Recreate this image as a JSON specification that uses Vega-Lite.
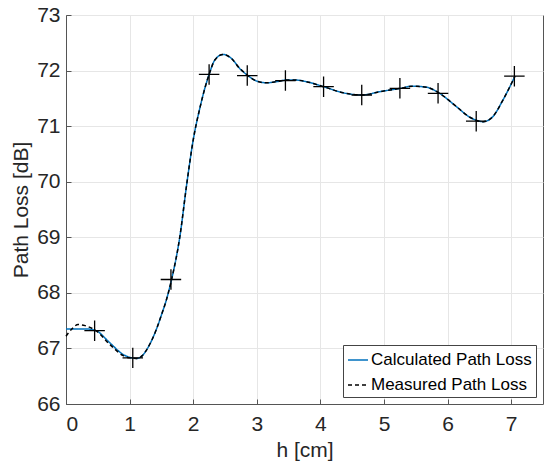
{
  "$schema": "https://vega.github.io/schema/vega-lite/v6.json",
  "autosize": "none",
  "width": 477,
  "height": 389,
  "padding": {"left": 66, "top": 15, "right": 8, "bottom": 66},
  "background": "white",
  "datasets": {
    "curves": [
      {"h": 0.00, "loss": 67.35, "series": "Calculated Path Loss"},
      {"h": 0.15, "loss": 67.35, "series": "Calculated Path Loss"},
      {"h": 0.32, "loss": 67.35, "series": "Calculated Path Loss"},
      {"h": 0.47, "loss": 67.32, "series": "Calculated Path Loss"},
      {"h": 0.69, "loss": 67.10, "series": "Calculated Path Loss"},
      {"h": 0.90, "loss": 66.89, "series": "Calculated Path Loss"},
      {"h": 1.00, "loss": 66.84, "series": "Calculated Path Loss"},
      {"h": 1.11, "loss": 66.82, "series": "Calculated Path Loss"},
      {"h": 1.20, "loss": 66.87, "series": "Calculated Path Loss"},
      {"h": 1.27, "loss": 66.98, "series": "Calculated Path Loss"},
      {"h": 1.42, "loss": 67.34, "series": "Calculated Path Loss"},
      {"h": 1.50, "loss": 67.60, "series": "Calculated Path Loss"},
      {"h": 1.58, "loss": 67.88, "series": "Calculated Path Loss"},
      {"h": 1.66, "loss": 68.24, "series": "Calculated Path Loss"},
      {"h": 1.79, "loss": 69.01, "series": "Calculated Path Loss"},
      {"h": 1.90, "loss": 69.97, "series": "Calculated Path Loss"},
      {"h": 2.00, "loss": 70.75, "series": "Calculated Path Loss"},
      {"h": 2.11, "loss": 71.35, "series": "Calculated Path Loss"},
      {"h": 2.19, "loss": 71.71, "series": "Calculated Path Loss"},
      {"h": 2.25, "loss": 71.93, "series": "Calculated Path Loss"},
      {"h": 2.34, "loss": 72.19, "series": "Calculated Path Loss"},
      {"h": 2.47, "loss": 72.29, "series": "Calculated Path Loss"},
      {"h": 2.60, "loss": 72.22, "series": "Calculated Path Loss"},
      {"h": 2.73, "loss": 72.04, "series": "Calculated Path Loss"},
      {"h": 2.85, "loss": 71.92, "series": "Calculated Path Loss"},
      {"h": 3.00, "loss": 71.81, "series": "Calculated Path Loss"},
      {"h": 3.15, "loss": 71.78, "series": "Calculated Path Loss"},
      {"h": 3.31, "loss": 71.80, "series": "Calculated Path Loss"},
      {"h": 3.47, "loss": 71.83, "series": "Calculated Path Loss"},
      {"h": 3.60, "loss": 71.83, "series": "Calculated Path Loss"},
      {"h": 3.78, "loss": 71.80, "series": "Calculated Path Loss"},
      {"h": 4.05, "loss": 71.71, "series": "Calculated Path Loss"},
      {"h": 4.36, "loss": 71.60, "series": "Calculated Path Loss"},
      {"h": 4.66, "loss": 71.56, "series": "Calculated Path Loss"},
      {"h": 4.93, "loss": 71.62, "series": "Calculated Path Loss"},
      {"h": 5.26, "loss": 71.68, "series": "Calculated Path Loss"},
      {"h": 5.45, "loss": 71.72, "series": "Calculated Path Loss"},
      {"h": 5.67, "loss": 71.70, "series": "Calculated Path Loss"},
      {"h": 5.86, "loss": 71.60, "series": "Calculated Path Loss"},
      {"h": 6.14, "loss": 71.35, "series": "Calculated Path Loss"},
      {"h": 6.35, "loss": 71.16, "series": "Calculated Path Loss"},
      {"h": 6.56, "loss": 71.08, "series": "Calculated Path Loss"},
      {"h": 6.71, "loss": 71.17, "series": "Calculated Path Loss"},
      {"h": 6.87, "loss": 71.47, "series": "Calculated Path Loss"},
      {"h": 7.06, "loss": 71.90, "series": "Calculated Path Loss"},
      {"h": 0.00, "loss": 67.22, "series": "Measured Path Loss"},
      {"h": 0.10, "loss": 67.36, "series": "Measured Path Loss"},
      {"h": 0.19, "loss": 67.43, "series": "Measured Path Loss"},
      {"h": 0.30, "loss": 67.41, "series": "Measured Path Loss"},
      {"h": 0.47, "loss": 67.32, "series": "Measured Path Loss"},
      {"h": 0.70, "loss": 67.06, "series": "Measured Path Loss"},
      {"h": 0.90, "loss": 66.87, "series": "Measured Path Loss"},
      {"h": 1.00, "loss": 66.83, "series": "Measured Path Loss"},
      {"h": 1.11, "loss": 66.82, "series": "Measured Path Loss"},
      {"h": 1.20, "loss": 66.87, "series": "Measured Path Loss"},
      {"h": 1.27, "loss": 66.98, "series": "Measured Path Loss"},
      {"h": 1.42, "loss": 67.34, "series": "Measured Path Loss"},
      {"h": 1.50, "loss": 67.60, "series": "Measured Path Loss"},
      {"h": 1.58, "loss": 67.88, "series": "Measured Path Loss"},
      {"h": 1.66, "loss": 68.24, "series": "Measured Path Loss"},
      {"h": 1.79, "loss": 69.01, "series": "Measured Path Loss"},
      {"h": 1.90, "loss": 69.97, "series": "Measured Path Loss"},
      {"h": 2.00, "loss": 70.75, "series": "Measured Path Loss"},
      {"h": 2.11, "loss": 71.35, "series": "Measured Path Loss"},
      {"h": 2.19, "loss": 71.71, "series": "Measured Path Loss"},
      {"h": 2.25, "loss": 71.93, "series": "Measured Path Loss"},
      {"h": 2.34, "loss": 72.19, "series": "Measured Path Loss"},
      {"h": 2.47, "loss": 72.29, "series": "Measured Path Loss"},
      {"h": 2.60, "loss": 72.22, "series": "Measured Path Loss"},
      {"h": 2.73, "loss": 72.04, "series": "Measured Path Loss"},
      {"h": 2.85, "loss": 71.92, "series": "Measured Path Loss"},
      {"h": 3.00, "loss": 71.81, "series": "Measured Path Loss"},
      {"h": 3.15, "loss": 71.78, "series": "Measured Path Loss"},
      {"h": 3.31, "loss": 71.80, "series": "Measured Path Loss"},
      {"h": 3.47, "loss": 71.83, "series": "Measured Path Loss"},
      {"h": 3.60, "loss": 71.83, "series": "Measured Path Loss"},
      {"h": 3.78, "loss": 71.80, "series": "Measured Path Loss"},
      {"h": 4.05, "loss": 71.71, "series": "Measured Path Loss"},
      {"h": 4.36, "loss": 71.60, "series": "Measured Path Loss"},
      {"h": 4.66, "loss": 71.56, "series": "Measured Path Loss"},
      {"h": 4.93, "loss": 71.62, "series": "Measured Path Loss"},
      {"h": 5.26, "loss": 71.68, "series": "Measured Path Loss"},
      {"h": 5.45, "loss": 71.72, "series": "Measured Path Loss"},
      {"h": 5.67, "loss": 71.70, "series": "Measured Path Loss"},
      {"h": 5.86, "loss": 71.60, "series": "Measured Path Loss"},
      {"h": 6.14, "loss": 71.35, "series": "Measured Path Loss"},
      {"h": 6.35, "loss": 71.16, "series": "Measured Path Loss"},
      {"h": 6.56, "loss": 71.08, "series": "Measured Path Loss"},
      {"h": 6.71, "loss": 71.17, "series": "Measured Path Loss"},
      {"h": 6.87, "loss": 71.47, "series": "Measured Path Loss"},
      {"h": 7.06, "loss": 71.90, "series": "Measured Path Loss"}
    ],
    "markers": [
      {"h": 0.45, "loss": 67.32},
      {"h": 1.05, "loss": 66.83},
      {"h": 1.65, "loss": 68.24},
      {"h": 2.25, "loss": 71.93},
      {"h": 2.85, "loss": 71.91},
      {"h": 3.45, "loss": 71.82},
      {"h": 4.05, "loss": 71.71},
      {"h": 4.65, "loss": 71.56},
      {"h": 5.25, "loss": 71.68},
      {"h": 5.85, "loss": 71.59},
      {"h": 6.45, "loss": 71.09},
      {"h": 7.05, "loss": 71.90}
    ]
  },
  "layer": [
    {
      "data": {"name": "curves"},
      "mark": {"type": "line", "interpolate": "monotone", "strokeWidth": 1.5},
      "encoding": {
        "x": {
          "field": "h", "type": "quantitative",
          "scale": {"domain": [0, 7.5], "nice": false, "zero": false},
          "axis": {"title": "h [cm]", "values": [0, 1, 2, 3, 4, 5, 6, 7], "format": "d"}
        },
        "y": {
          "field": "loss", "type": "quantitative",
          "scale": {"domain": [66, 73], "nice": false, "zero": false},
          "axis": {"title": "Path Loss [dB]", "values": [66, 67, 68, 69, 70, 71, 72, 73], "format": "d"}
        },
        "color": {
          "field": "series", "type": "nominal",
          "scale": {"domain": ["Calculated Path Loss", "Measured Path Loss"], "range": ["#0072BD", "#000000"]},
          "legend": {"title": null}
        },
        "strokeDash": {
          "field": "series", "type": "nominal",
          "scale": {"domain": ["Calculated Path Loss", "Measured Path Loss"], "range": [[1, 0], [4, 3]]},
          "legend": {"title": null}
        }
      }
    },
    {
      "data": {"name": "markers"},
      "mark": {"type": "point", "shape": "M-1,0H1M0,-1V1", "size": 420, "stroke": "#000000", "strokeWidth": 1.3, "filled": false, "opacity": 1},
      "encoding": {
        "x": {"field": "h", "type": "quantitative"},
        "y": {"field": "loss", "type": "quantitative"}
      }
    }
  ],
  "config": {
    "font": "Liberation Sans",
    "view": {"stroke": "#555555", "strokeWidth": 1},
    "axis": {
      "domainColor": "#555555",
      "tickColor": "#555555",
      "tickSize": -5,
      "gridColor": "#e6e6e6",
      "gridWidth": 1,
      "labelFont": "Liberation Sans",
      "labelFontSize": 21,
      "labelColor": "#262626",
      "titleFont": "Liberation Sans",
      "titleFontSize": 21,
      "titleFontWeight": "normal",
      "titleColor": "#262626"
    },
    "axisX": {"labelPadding": 14, "titlePadding": 5},
    "axisY": {"labelPadding": 11, "titlePadding": 5},
    "legend": {
      "orient": "bottom-right",
      "offset": 7,
      "strokeColor": "#444444",
      "fillColor": "white",
      "padding": 4,
      "labelFont": "Liberation Sans",
      "labelFontSize": 17,
      "labelColor": "#000000",
      "labelOffset": 2,
      "symbolType": "stroke",
      "symbolSize": 400,
      "symbolStrokeWidth": 1.5,
      "rowPadding": 6,
      "labelLimit": 300
    }
  }
}
